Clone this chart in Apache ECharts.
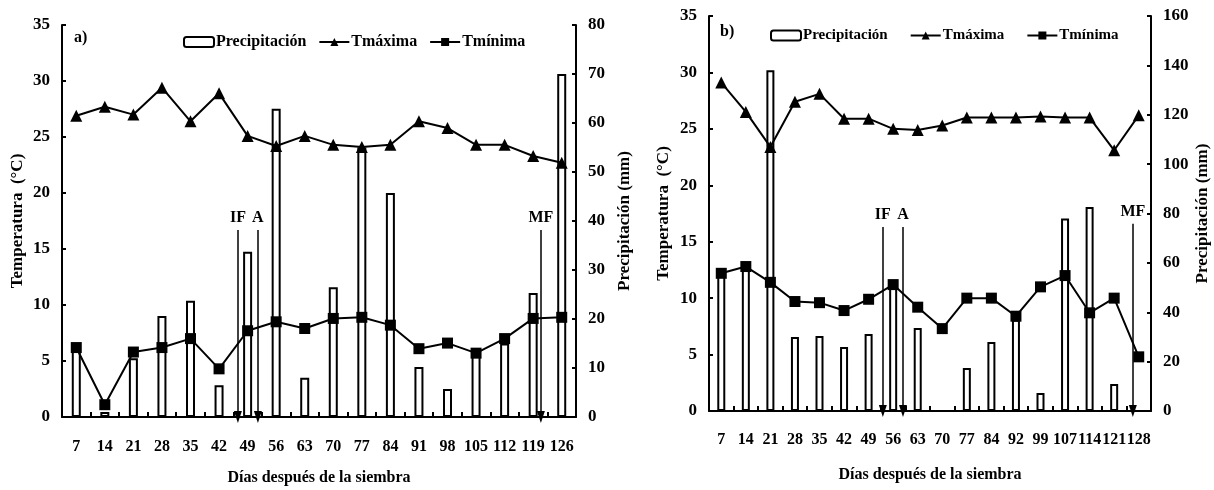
<!DOCTYPE html>
<html>
<head>
<meta charset="utf-8">
<script src="https://cdn.jsdelivr.net/npm/echarts@6/dist/echarts.min.js"></script>
<style>html,body{margin:0;padding:0;background:#fff}#c{width:1214px;height:490px}</style>
</head>
<body>
<div id="c"></div>
<script>
// ---- Panel a) ----
const daysA = ['7','14','21','28','35','42','49','56','63','70','77','84','91','98','105','112','119','126'];
const precipA = [14, 1, 12, 20.6, 23.7, 6.5, 33.7, 62.9, 8, 26.5, 55, 45.7, 10.2, 5.7, 13, 15, 25.3, 70];
const tmaxA = [26.9, 27.7, 27.0, 29.4, 26.4, 28.9, 25.1, 24.2, 25.1, 24.3, 24.1, 24.3, 26.4, 25.8, 24.3, 24.3, 23.3, 22.7];
const tminA = [6.2, 1.1, 5.8, 6.2, 7.0, 4.3, 7.7, 8.5, 7.9, 8.8, 8.9, 8.2, 6.1, 6.6, 5.7, 7.0, 8.8, 8.9];
// stage markers (position in category-slot units, arrow top in °C)
const stageLabelsA = ['IF', 'A', 'MF'];
const stagePosA = [6.16, 6.86, 16.77];
const stageTopA = [16.7, 16.7, 16.7];

// ---- Panel b) ----
const daysB = ['7','14','21','28','35','42','49','56','63','70','77','84','92','99','107','114','121','128'];
const precipB = [56, 58, 138, 30, 30.4, 25.9, 31.2, 50, 33.6, 0, 17.4, 27.9, 37, 7.3, 78, 82.6, 10.9, 0];
const tmaxB = [29.1, 26.5, 23.4, 27.4, 28.1, 25.9, 25.9, 25.0, 24.9, 25.3, 26.0, 26.0, 26.0, 26.1, 26.0, 26.0, 23.1, 26.2];
const tminB = [12.2, 12.8, 11.4, 9.7, 9.6, 8.9, 9.9, 11.2, 9.2, 7.3, 10.0, 10.0, 8.4, 11.0, 12.0, 8.7, 10.0, 4.8];
const stageLabelsB = ['IF', 'A', 'MF'];
const stagePosB = [7.08, 7.90, 17.26];
const stageTopB = [16.3, 16.3, 16.6];

const FONT = "'Liberation Serif', 'Times New Roman', serif";
const txt = {fontFamily: FONT, fontWeight: 'bold', color: '#000', fontSize: 16};

function catAxis(gi, data, margin, gap) {
  return {
    type: 'category', gridIndex: gi, data: data,
    axisLine: {lineStyle: {color: '#000', width: 2}},
    axisTick: {show: true, inside: true, length: 5, lineStyle: {color: '#000', width: 2}},
    axisLabel: Object.assign({margin: margin, interval: 0}, txt),
    name: 'Días después de la siembra', nameLocation: 'middle', nameGap: gap,
    nameTextStyle: Object.assign({}, txt)
  };
}
function valAxis(gi, max, interval, pos, name, gap) {
  return {
    type: 'value', gridIndex: gi, min: 0, max: max, interval: interval, position: pos,
    axisLine: {show: true, lineStyle: {color: '#000', width: 2}},
    axisTick: {show: true, inside: true, length: 4, lineStyle: {color: '#000', width: 2}},
    splitLine: {show: false},
    axisLabel: Object.assign({margin: 12}, txt, {fontSize: 17}),
    name: name, nameLocation: 'middle', nameRotate: 90, nameGap: gap,
    nameTextStyle: Object.assign({}, txt, {fontSize: 17})
  };
}
function stageSeries(xi, yi, labels, pos, tops) {
  return {
    type: 'line', xAxisIndex: xi, yAxisIndex: yi, data: [], silent: true,
    markLine: {
      silent: true, animation: false,
      symbol: ['none', 'triangle'], symbolSize: [8, 12],
      lineStyle: {color: '#000', width: 1.5, type: 'solid'},
      label: Object.assign({show: true, position: 'start', formatter: '{b}', distance: 4}, txt),
      emphasis: {disabled: true},
      data: labels.map((l, i) => [{name: l, coord: [pos[i], tops[i]]}, {coord: [pos[i], 0]}])
    }
  };
}
function barSeries(xi, yi, data, w) {
  return {name: 'Precipitación', type: 'bar', xAxisIndex: xi, yAxisIndex: yi, data: data, barWidth: w,
    itemStyle: {color: '#fff', borderColor: '#000', borderWidth: 2}, z: 1};
}
function lineSeries(name, xi, yi, data, sym, size) {
  return {name: name, type: 'line', xAxisIndex: xi, yAxisIndex: yi, data: data,
    symbol: sym, symbolSize: size, showSymbol: true,
    lineStyle: {color: '#000', width: 2}, itemStyle: {color: '#000'}, z: 3};
}

const option = {
  animation: false,
  backgroundColor: '#fff',
  grid: [
    {left: 62, right: 638, top: 25, bottom: 73, containLabel: false, outerBoundsMode: 'none'},
    {left: 709, right: 63, top: 16, bottom: 79, containLabel: false, outerBoundsMode: 'none'}
  ],
  xAxis: [
    catAxis(0, daysA, 22, 53),
    catAxis(1, daysB, 21, 56),
    {type: 'value', gridIndex: 0, min: 0, max: 18, show: false},
    {type: 'value', gridIndex: 1, min: 0, max: 18, show: false}
  ],
  yAxis: [
    valAxis(0, 35, 5, 'left', 'Temperatura  (°C)', 36),
    valAxis(0, 80, 10, 'right', 'Precipitación (mm)', 40),
    valAxis(1, 35, 5, 'left', 'Temperatura  (°C)', 37),
    valAxis(1, 160, 20, 'right', 'Precipitación (mm)', 43)
  ],
  legend: [
    {left: 178, top: 29, itemWidth: 30, itemHeight: 10, itemGap: 12, selectedMode: false,
     textStyle: Object.assign({}, txt, {padding: [0, 0, 0, -3]}), data: ['Precipitación', 'Tmáxima', 'Tmínima']},
    {left: 765, top: 23, itemWidth: 30, itemHeight: 10, itemGap: 22, selectedMode: false,
     textStyle: Object.assign({}, txt, {fontSize: 15, padding: [0, 0, 0, -3]}), data: ['Precipitación', 'Tmáxima', 'Tmínima']}
  ],
  graphic: [
    {type: 'text', left: 74, top: 30, style: {text: 'a)', font: "bold 16px 'Liberation Serif'", fill: '#000'}},
    {type: 'text', left: 720, top: 24, style: {text: 'b)', font: "bold 16px 'Liberation Serif'", fill: '#000'}}
  ],
  series: [
    barSeries(0, 1, precipA, 9),
    lineSeries('Tmáxima', 0, 0, tmaxA, 'triangle', 12),
    lineSeries('Tmínima', 0, 0, tminA, 'rect', 11),
    stageSeries(2, 0, stageLabelsA, stagePosA, stageTopA),
    barSeries(1, 3, precipB, 8),
    lineSeries('Tmáxima', 1, 2, tmaxB, 'triangle', 12),
    lineSeries('Tmínima', 1, 2, tminB, 'rect', 11),
    stageSeries(3, 2, stageLabelsB, stagePosB, stageTopB)
  ]
};
echarts.init(document.getElementById('c'), null, {renderer: 'canvas'}).setOption(option);
</script>
</body>
</html>
